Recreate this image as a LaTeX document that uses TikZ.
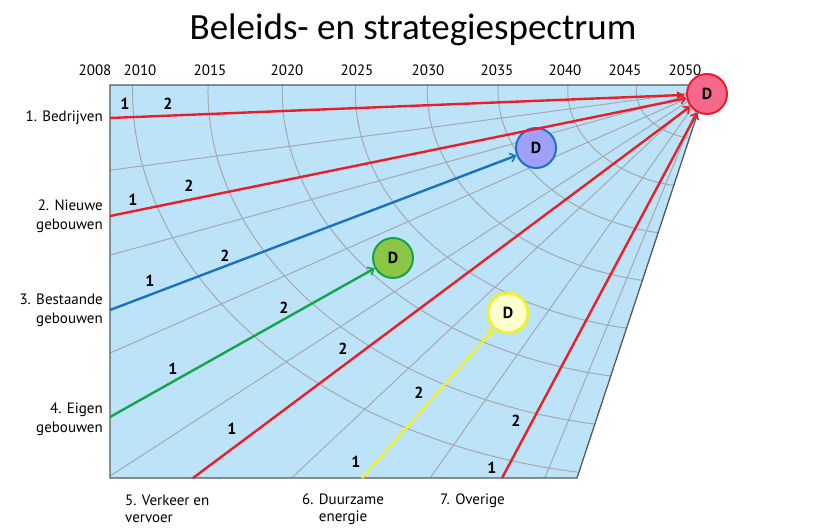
\documentclass[tikz,border=0pt]{standalone}
\usepackage{fontspec}
\setmainfont{Carlito}
\newfontfamily\labfont{PT Sans}
\usetikzlibrary{arrows.meta}
\definecolor{skyfill}{RGB}{189,227,249}
\definecolor{gridgray}{RGB}{165,168,172}
\definecolor{edgegray}{RGB}{85,90,95}
\definecolor{lred}{RGB}{232,30,40}
\definecolor{pinkfill}{RGB}{246,104,140}
\definecolor{lblue}{RGB}{25,115,190}
\definecolor{bluefill}{RGB}{160,160,250}
\definecolor{lgreen}{RGB}{20,165,75}
\definecolor{greenfill}{RGB}{140,198,70}
\definecolor{lyellow}{RGB}{240,240,50}
\definecolor{yellowfill}{RGB}{255,255,205}
\begin{document}
\begin{tikzpicture}[x=1pt,y=-1pt,
  gridline/.style={draw=gridgray, line width=1pt},
  dnode/.style={circle, minimum size=40pt, inner sep=0pt, line width=2pt, font=\labfont\bfseries\fontsize{16}{18}\selectfont},
  num/.style={font=\labfont\bfseries\fontsize{16}{18}\selectfont, inner sep=0pt},
  yearlab/.style={font=\labfont\fontsize{15}{17}\selectfont, inner sep=0pt},
  catlab/.style={font=\labfont\fontsize{15}{19}\selectfont, inner sep=0pt, align=right},
  botlab/.style={font=\labfont\fontsize{15}{17}\selectfont, inner sep=0pt},
  conn/.style={line width=2.4pt},
  fulltip/.style={-{Latex[length=9pt,width=8pt]}},
  barbtip/.style={-{Straight Barb[length=5pt,width=9pt,line width=1.6pt]}}
]
\useasboundingbox (0,0) rectangle (818,529);
% title
\node[font=\fontsize{37}{40}\selectfont, inner sep=0pt] (title) at (413,30) {Beleids- en strategiespectrum};
% years
\foreach \yr/\xx in {2008/95,2010/140,2015/210,2020/287,2025/357,2030/428,2035/497,2040/565,2045/625,2050/685}
  \node[yearlab] (y\yr) at (\xx,70) {\yr};
% field
\fill[skyfill] (110,85) -- (707,85) -- (577,478) -- (110,478) -- cycle;
\begin{scope}
\clip (110,85) -- (707,85) -- (577,478) -- (110,478) -- cycle;
\foreach \r in {1,...,8} {
  \draw[gridline] plot[domain=-8:88, samples=70, variable=\t]
    ({704-\r*67.1*cos(\t)/(1-\r*0.0076*cos(\t))},{91+\r*48.3*sin(\t)/(1-\r*0.0076*cos(\t))});
}
\foreach \k in {1,...,8} {
  \draw[gridline] (704,91) -- ({704-900*cos(10.5*\k)},{91+900*0.72*sin(10.5*\k)});
}
\end{scope}
\draw[edgegray, line width=1.3pt] (110,85) -- (707,85) -- (577,478) -- (110,478) -- cycle;
% category labels
\node[catlab, anchor=east] (c1) at (103,118) {1. Bedrijven};
\node[catlab, anchor=east] (c2) at (103,216) {2. Nieuwe\\gebouwen};
\node[catlab, anchor=east] (c3) at (103,310) {3. Bestaande\\gebouwen};
\node[catlab, anchor=east] (c4) at (103,419) {4. Eigen\\gebouwen};
\node[botlab, anchor=west, align=left] (c5) at (125,509) {5. Verkeer en\\vervoer};
\node[botlab, anchor=west, align=center] (c6) at (302,509) {6. Duurzame\\energie};
\node[botlab, anchor=west] (c7) at (440,501) {7. Overige};
% D nodes
\node[dnode, draw=lred, fill=pinkfill] (dR) at (707,94) {D};
\node[dnode, draw=lblue, fill=bluefill] (dB) at (536,148) {D};
\node[dnode, draw=lgreen, fill=greenfill] (dG) at (393,258) {D};
\node[dnode, draw=lyellow, fill=yellowfill, line width=3pt] (dY) at (508,313) {D};
% start points
\coordinate (s1) at (110,118);
\coordinate (s2) at (110,216);
\coordinate (s3) at (110,310);
\coordinate (s4) at (110,417);
\coordinate (s5) at (193,478);
\coordinate (s6) at (362,478);
\coordinate (s7) at (502,478);
% connectors
\draw[conn, lred, fulltip] (s1) -- (dR);
\draw[conn, lred, barbtip] (s2) -- (dR);
\draw[conn, lblue, barbtip] (s3) -- (dB);
\draw[conn, lgreen, barbtip] (s4) -- (dG);
\draw[conn, lred, barbtip] (s5) -- (dR);
\draw[conn, lyellow, barbtip] (s6) -- (dY);
\draw[conn, lred, barbtip] (s7) -- (dR);
% step numbers
\node[num] (n1a) at (125,104) {1};
\node[num] (n1b) at (168,104) {2};
\node[num] (n2a) at (133,200) {1};
\node[num] (n2b) at (189,186) {2};
\node[num] (n3a) at (150,281) {1};
\node[num] (n3b) at (225,256) {2};
\node[num] (n4a) at (173,369) {1};
\node[num] (n4b) at (284,308) {2};
\node[num] (n5a) at (232,429) {1};
\node[num] (n5b) at (343,349) {2};
\node[num] (n6a) at (356,462) {1};
\node[num] (n6b) at (419,393) {2};
\node[num] (n7a) at (492,468) {1};
\node[num] (n7b) at (516,421) {2};
\end{tikzpicture}
\end{document}
